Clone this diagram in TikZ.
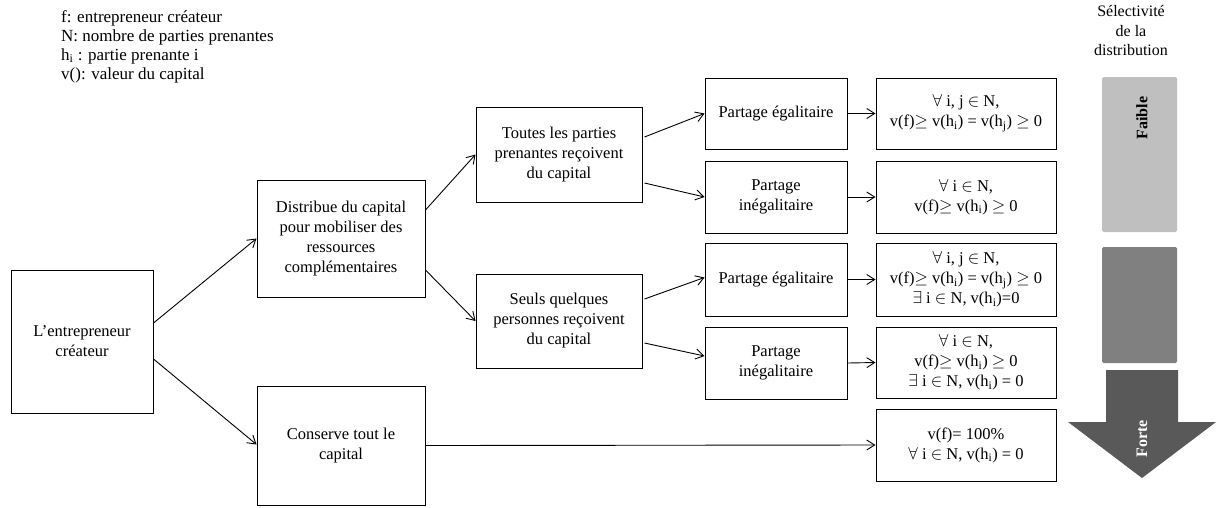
\documentclass[tikz,border=0pt]{standalone}
\usepackage{fontspec}
\setmainfont{Liberation Serif}
\usetikzlibrary{arrows.meta,calc}
\newcommand{\myfa}{$\forall$}
\newcommand{\myin}{$\in$}
\newcommand{\myge}{$\geq$}
\newcommand{\myex}{$\exists$}
\newcommand{\hs}[1]{h\textsubscript{#1}}
\tikzset{
  box/.style={draw, line width=1pt, inner sep=0pt, align=center,
    font=\fontsize{16.5}{20}\selectfont},
  conn/.style={line width=0.9pt, -{Straight Barb[length=8pt,width=10pt,line width=0.9pt]}},
}
\begin{document}
\begin{tikzpicture}[x=1pt,y=-1pt]
\useasboundingbox (0,0) rectangle (1217,507);
% legend
\node[anchor=north west, inner sep=0pt, align=left, font=\fontsize{17}{19}\selectfont] (legend) at (61,10)
  {f: entrepreneur créateur\\N: nombre de parties prenantes\\\hs{i} : partie prenante i\\v(): valeur du capital};
\node[align=center, inner sep=0pt, font=\fontsize{16}{19.5}\selectfont] (sel) at (1131,31)
  {Sélectivité\\de la\\distribution};
% boxes
\node[box, minimum width=142, minimum height=143] (ent) at (82,341.5) {L’entrepreneur\\créateur};
\node[box, minimum width=168, minimum height=117] (dist) at (341,238.5) {Distribue du capital\\pour mobiliser des\\ressources\\complémentaires};
\node[box, minimum width=168, minimum height=119] (cons) at (341,445.5) {Conserve tout le\\capital};
\node[box, minimum width=166, minimum height=95] (tout) at (559,154.5) {Toutes les parties\\prenantes reçoivent\\du capital};
\node[box, minimum width=166, minimum height=94] (seul) at (559,321) {Seuls quelques\\personnes reçoivent\\du capital};
\node[box, minimum width=142, minimum height=71] (pe1) at (776,113.5) {Partage égalitaire};
\node[box, minimum width=142, minimum height=72] (pi1) at (776,197) {Partage\\inégalitaire};
\node[box, minimum width=142, minimum height=73] (pe2) at (776,279.5) {Partage égalitaire};
\node[box, minimum width=142, minimum height=72] (pi2) at (776,363) {Partage\\inégalitaire};
\node[box, minimum width=180, minimum height=71] (r1) at (966,113.5) {\myfa\ i, j \myin\ N,\\v(f)\myge\ v(\hs{i}) = v(\hs{j}) \myge\ 0};
\node[box, minimum width=180, minimum height=72] (r2) at (966,197) {\myfa\ i \myin\ N,\\v(f)\myge\ v(\hs{i}) \myge\ 0};
\node[box, minimum width=180, minimum height=73] (r3) at (966,279.5) {\myfa\ i, j \myin\ N,\\v(f)\myge\ v(\hs{i}) = v(\hs{j}) \myge\ 0\\\myex\ i \myin\ N, v(\hs{i})=0};
\node[box, minimum width=180, minimum height=71] (r4) at (966,362.5) {\myfa\ i \myin\ N,\\v(f)\myge\ v(\hs{i}) \myge\ 0\\\myex\ i \myin\ N, v(\hs{i}) = 0};
\node[box, minimum width=180, minimum height=72] (r5) at (966,445) {v(f)= 100\%\\\myfa\ i \myin\ N, v(\hs{i}) = 0};
% connectors
\draw[conn] ($(ent.east)+(0,-18.5)$) -- (dist.west);
\draw[conn] ($(ent.east)+(0,17.5)$) -- ($(cons.west)+(0,-1)$);
\draw[conn] ($(dist.east)+(0,-28.5)$) -- (tout.west);
\draw[conn] ($(dist.east)+(0,31.5)$) -- (seul.west);
\draw[conn] ($(tout.east)+(2,-17.5)$) -- (pe1.west);
\draw[conn] ($(tout.east)+(2,28.5)$) -- (pi1.west);
\draw[conn] ($(seul.east)+(2,-22)$) -- ($(pe2.west)+(0,-2)$);
\draw[conn] ($(seul.east)+(2,22)$) -- ($(pi2.west)+(0,-7)$);
\draw[conn] (pe1.east) -- (r1.west);
\draw[conn] (pi1.east) -- (r2.west);
\draw[conn] (pe2.east) -- (r3.west);
\draw[conn] (pi2.east) -- (r4.west);
\draw[conn] (cons.east) -- (r5.west);
% selectivity scale
\fill[black!25, rounded corners=1.5pt] (1102,77) rectangle (1177,232);
\fill[black!50, rounded corners=1.5pt] (1102,247) rectangle (1177,363);
\fill[black!65] (1106,370) -- (1178,370) -- (1178,422) -- (1216,422) -- (1142,478) -- (1068,422) -- (1106,422) -- cycle;
\node[rotate=90, inner sep=0pt, font=\fontsize{16}{19}\selectfont\bfseries] (faible) at (1142,118) {Faible};
\node[rotate=90, inner sep=0pt, text=white, font=\fontsize{16}{19}\selectfont\bfseries] (forte) at (1142,439) {Forte};
\end{tikzpicture}
\end{document}
